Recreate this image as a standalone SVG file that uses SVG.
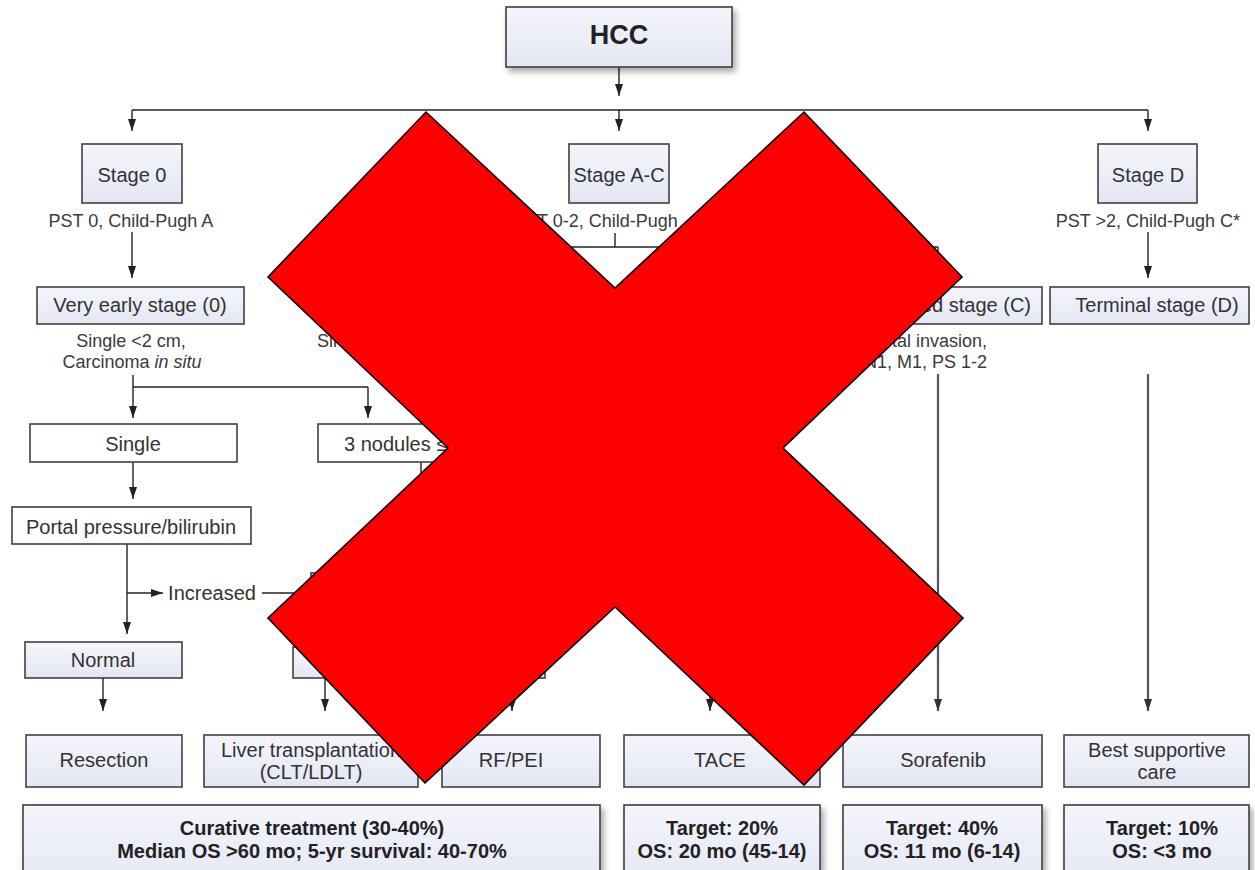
<svg xmlns="http://www.w3.org/2000/svg" width="1255" height="870" viewBox="0 0 1255 870">
<defs>
<linearGradient id="lav" x1="0" y1="0" x2="0" y2="1">
<stop offset="0" stop-color="#f4f5fc"/>
<stop offset="1" stop-color="#e4e7f3"/>
</linearGradient>
<filter id="sh" x="-10%" y="-20%" width="130%" height="160%">
<feGaussianBlur in="SourceAlpha" stdDeviation="3"/>
<feOffset dx="3" dy="4" result="b"/>
<feComponentTransfer><feFuncA type="linear" slope="0.35"/></feComponentTransfer>
<feMerge><feMergeNode/><feMergeNode in="SourceGraphic"/></feMerge>
</filter>
<marker id="ah" viewBox="0 0 12 8" refX="12" refY="4" markerWidth="12" markerHeight="8" markerUnits="userSpaceOnUse" orient="auto">
<path d="M0,0 L12,4 L0,8 z" fill="#222"/>
</marker>
<marker id="ahg" viewBox="0 0 12 8" refX="12" refY="4" markerWidth="12" markerHeight="8" markerUnits="userSpaceOnUse" orient="auto">
<path d="M0,0 L12,4 L0,8 z" fill="#333"/>
</marker>
</defs>
<style>
.box{fill:url(#lav);stroke:#404040;stroke-width:1.6}
.wbox{fill:#ffffff;stroke:#404040;stroke-width:1.6}
.t{font-family:"Liberation Sans",Arial,sans-serif;font-size:20px;fill:#333;text-anchor:middle}
.s{font-family:"Liberation Sans",Arial,sans-serif;font-size:18px;fill:#3a3a3a;text-anchor:middle}
.b{font-family:"Liberation Sans",Arial,sans-serif;font-size:20px;font-weight:bold;fill:#222;text-anchor:middle}
.c{fill:none;stroke:#222;stroke-width:1.4}
.g{fill:none;stroke:#555;stroke-width:2.2}
</style>
<rect width="1255" height="870" fill="#ffffff"/>

<g id="connectors">
<line class="c" x1="619" y1="67" x2="619" y2="96" marker-end="url(#ah)"/>
<line class="c" x1="132" y1="110" x2="1148" y2="110"/>
<line class="c" x1="132" y1="110" x2="132" y2="131" marker-end="url(#ah)"/>
<line class="c" x1="619" y1="110" x2="619" y2="131" marker-end="url(#ah)"/>
<line class="c" x1="1148" y1="110" x2="1148" y2="131" marker-end="url(#ah)"/>
<line class="c" x1="132" y1="232" x2="132" y2="278" marker-end="url(#ah)"/>
<line class="c" x1="1148" y1="232" x2="1148" y2="278" marker-end="url(#ah)"/>
<line class="c" x1="615" y1="233" x2="615" y2="247"/>
<line class="c" x1="330" y1="247" x2="938" y2="247"/>
<line class="c" x1="938" y1="247" x2="938" y2="286" marker-end="url(#ah)"/>
<line class="c" x1="133" y1="375" x2="133" y2="387"/>
<line class="c" x1="133" y1="387" x2="368" y2="387"/>
<line class="c" x1="133" y1="387" x2="133" y2="418" marker-end="url(#ah)"/>
<line class="c" x1="368" y1="387" x2="368" y2="418" marker-end="url(#ah)"/>
<line class="c" x1="133" y1="462" x2="133" y2="499" marker-end="url(#ah)"/>
<line class="c" x1="421" y1="462" x2="421" y2="520"/>
<line class="c" x1="127" y1="544" x2="127" y2="634" marker-end="url(#ah)"/>
<line class="c" x1="127" y1="593" x2="163" y2="593" marker-end="url(#ah)"/>
<line class="c" x1="262" y1="593" x2="310" y2="593" marker-end="url(#ah)"/>
<line class="c" x1="103" y1="678" x2="103" y2="711" marker-end="url(#ah)"/>
<line class="c" x1="325" y1="678" x2="325" y2="711" marker-end="url(#ah)"/>
<line class="c" x1="512" y1="678" x2="512" y2="711" marker-end="url(#ah)"/>
<line class="c" x1="710" y1="640" x2="710" y2="711" marker-end="url(#ah)"/>
<line class="g" x1="938" y1="374" x2="938" y2="711" marker-end="url(#ahg)"/>
<line class="g" x1="1148" y1="374" x2="1148" y2="711" marker-end="url(#ahg)"/>
</g>

<g id="hcc"><rect class="box" x="506" y="7" width="226" height="60" filter="url(#sh)"/><text x="619" y="44" class="b" style="font-size:27px">HCC</text></g>

<g id="stage0"><rect class="box" x="82" y="144" width="100" height="59"/><text x="132" y="182" class="t">Stage 0</text><text x="131" y="227" class="s">PST 0, Child-Pugh A</text></g>
<g id="stageAC"><rect class="box" x="569" y="144" width="100" height="59"/><text x="619" y="182" class="t">Stage A-C</text><text x="513" y="227" class="s" style="text-anchor:start">PST 0-2, Child-Pugh</text></g>
<g id="stageD"><rect class="box" x="1098" y="144" width="99" height="59"/><text x="1148" y="182" class="t">Stage D</text><text x="1148" y="227" class="s">PST &gt;2, Child-Pugh C*</text></g>

<g id="veryearly"><rect class="box" x="37" y="287" width="207" height="37"/><text x="140" y="312" class="t">Very early stage (0)</text><text x="131" y="347" class="s">Single &lt;2 cm,</text><text x="132" y="368" class="s">Carcinoma <tspan font-style="italic">in situ</tspan></text></g>
<g id="early"><text x="317" y="347" class="s" style="text-anchor:start">Single</text></g>
<g id="advanced"><rect class="box" x="843" y="287" width="199" height="37"/><text x="1031" y="312" class="t" style="text-anchor:end">Advanced stage (C)</text><text x="987" y="347" class="s" style="text-anchor:end">Portal invasion,</text><text x="987" y="368" class="s" style="text-anchor:end">N1, M1, PS 1-2</text></g>
<g id="terminal"><rect class="box" x="1050" y="287" width="199" height="37"/><text x="1157" y="312" class="t">Terminal stage (D)</text></g>

<g id="single"><rect class="wbox" x="30" y="424" width="207" height="38"/><text x="133" y="451" class="t">Single</text></g>
<g id="nodules"><rect class="wbox" x="318" y="424" width="207" height="38"/><text x="344" y="451" class="t" style="text-anchor:start">3 nodules ≤3 cm</text></g>
<g id="portal"><rect class="wbox" x="12" y="507" width="239" height="37"/><text x="131" y="534" class="t">Portal pressure/bilirubin</text></g>
<g id="increased"><text x="212" y="600" class="t">Increased</text></g>
<g id="assoc"><rect class="wbox" x="311" y="573" width="210" height="40"/></g>
<g id="normal"><rect class="box" x="25" y="642" width="157" height="36"/><text x="103" y="667" class="t">Normal</text></g>
<g id="no"><rect class="box" x="293" y="647" width="64" height="31"/></g>
<g id="yes"><rect class="box" x="480" y="647" width="65" height="31"/></g>

<g id="resection"><rect class="box" x="26" y="735" width="156" height="52"/><text x="104" y="767" class="t">Resection</text></g>
<g id="lt"><rect class="box" x="204" y="735" width="214" height="52"/><text x="311" y="757" class="t">Liver transplantation</text><text x="311" y="779" class="t">(CLT/LDLT)</text></g>
<g id="rfpei"><rect class="box" x="442" y="735" width="158" height="52"/><text x="511" y="767" class="t">RF/PEI</text></g>
<g id="tace"><rect class="box" x="624" y="735" width="196" height="52"/><text x="720" y="767" class="t">TACE</text></g>
<g id="sorafenib"><rect class="box" x="843" y="735" width="199" height="52"/><text x="943" y="767" class="t">Sorafenib</text></g>
<g id="bsc"><rect class="box" x="1064" y="735" width="185" height="52"/><text x="1157" y="757" class="t">Best supportive</text><text x="1157" y="779" class="t">care</text></g>

<g id="curative"><rect class="box" x="23" y="805" width="577" height="80" filter="url(#sh)"/><text x="312" y="835" class="b">Curative treatment (30-40%)</text><text x="312" y="858" class="b">Median OS &gt;60 mo; 5-yr survival: 40-70%</text></g>
<g id="t20"><rect class="box" x="624" y="805" width="196" height="80" filter="url(#sh)"/><text x="722" y="835" class="b">Target: 20%</text><text x="722" y="858" class="b">OS: 20 mo (45-14)</text></g>
<g id="t40"><rect class="box" x="843" y="805" width="199" height="80" filter="url(#sh)"/><text x="942" y="835" class="b">Target: 40%</text><text x="942" y="858" class="b">OS: 11 mo (6-14)</text></g>
<g id="t10"><rect class="box" x="1064" y="805" width="185" height="80" filter="url(#sh)"/><text x="1162" y="835" class="b">Target: 10%</text><text x="1162" y="858" class="b">OS: &lt;3 mo</text></g>

<polygon id="cross" points="268,277 426,112 615,288 804,112 962,277 783,448 963,618 804,785 615,607 425,783 268,618 448,448" fill="#ff0000" stroke="#000" stroke-width="1.6" stroke-linejoin="miter"/>
</svg>
